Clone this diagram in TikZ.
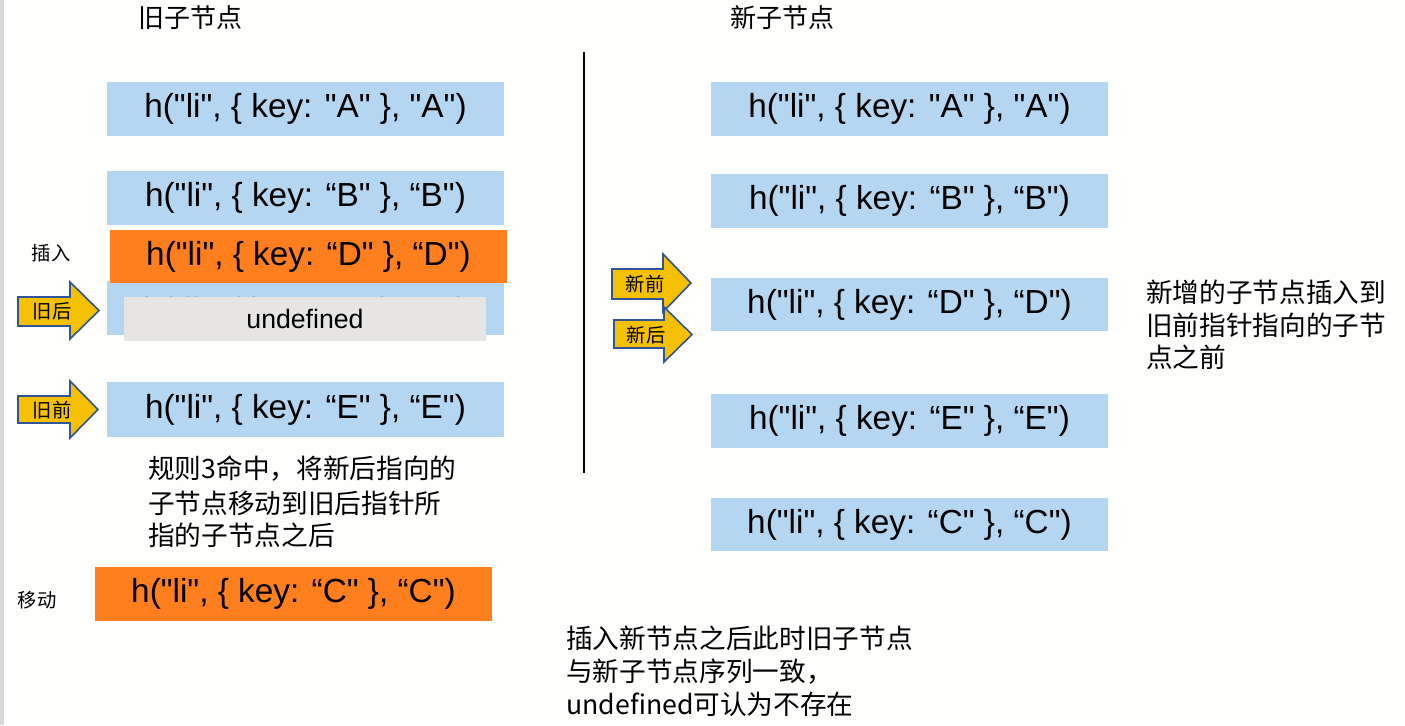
\documentclass[tikz,border=0pt]{standalone}
\usepackage{fontspec}
\setmainfont{Noto Sans CJK SC}
\newfontfamily\latin{Liberation Sans}[Ligatures=ResetAll]
\definecolor{boxblue}{HTML}{B5D6F1}
\definecolor{boxorange}{HTML}{FF7F1F}
\definecolor{boxgray}{HTML}{E6E5E3}
\definecolor{arrowfill}{HTML}{F5C000}
\definecolor{arrowline}{HTML}{2F5597}
\definecolor{bgcol}{HTML}{FEFEFC}
\definecolor{edgegray}{HTML}{D9D9D9}
\tikzset{
  bx/.style={minimum width=297.75pt, minimum height=40.5pt, inner sep=0pt, fill=boxblue,
    font=\latin\fontsize{25}{30}\selectfont},
  obx/.style={bx, fill=boxorange},
  arr/.style={fill=arrowfill, draw=arrowline, line width=1.2pt, line join=miter},
  arrlbl/.style={inner sep=0pt, font=\fontsize{14.5}{17}\selectfont},
  smalllbl/.style={inner sep=0pt, font=\fontsize{14.5}{17}\selectfont},
  title/.style={inner sep=0pt, anchor=west, font=\fontsize{19.5}{24}\selectfont},
  note/.style={inner sep=0pt, anchor=west, font=\fontsize{20}{24}\selectfont},
}
\begin{document}
\begin{tikzpicture}[x=0.75pt,y=-0.75pt]
\fill[bgcol] (0,0) rectangle (1405,725);
\fill[edgegray] (0,0) rectangle (4,725);
\useasboundingbox (0,0) rectangle (1405,725);

% titles
\node[title] (t1) at (138,18) {旧子节点};
\node[title] (t2) at (730,18) {新子节点};

% divider
\coordinate (d1) at (584,52);
\coordinate (d2) at (584,473);
\draw[line width=1.5pt] (d1) -- (d2);

% left column
\node[bx] (lA) at (305.5,109) {h("li", \{ key: "A" \}, "A")};
\node[bx] (lB) at (305.5,198) {h("li", \{ key: “B" \}, “B")};
\node[bx, text opacity=0] (lC) at (305.5,307.5) {};
\begin{scope}
  \clip (107,280) rectangle (504,297);
  \node[inner sep=0pt, font=\latin\fontsize{25}{30}\selectfont] (lCt) at (305.5,313) {h("li", \{ key: “C" \}, “C")};
\end{scope}
\node[inner sep=0pt, minimum width=271.5pt, minimum height=33pt, fill=boxgray,
  font=\latin\fontsize{20}{24}\selectfont] (lU) at (305,319) {undefined};
\node[obx, minimum height=39.75pt] (lD) at (308.5,256.5) {h("li", \{ key: “D" \}, “D")};
\node[bx, minimum height=41.25pt] (lE) at (305.5,409.5) {h("li", \{ key: “E" \}, “E")};
\node[obx] (lM) at (293.5,594) {h("li", \{ key: “C" \}, “C")};

% right column
\node[bx] (rA) at (909.5,109) {h("li", \{ key: "A" \}, "A")};
\node[bx] (rB) at (909.5,201) {h("li", \{ key: “B" \}, “B")};
\node[bx, minimum height=39.75pt] (rD) at (909.5,304.5) {h("li", \{ key: “D" \}, “D")};
\node[bx] (rE) at (909.5,421) {h("li", \{ key: “E" \}, “E")};
\node[bx, minimum height=39.75pt] (rC) at (909.5,524.5) {h("li", \{ key: “C" \}, “C")};

% arrows
\draw[arr] (18,297) -- (70,297) -- (70,282) -- (99,310.5) -- (70,339) -- (70,326) -- (18,326) -- cycle;
\node[arrlbl] (a1) at (52,311) {旧后};
\draw[arr] (18,396) -- (70,396) -- (70,381) -- (98,409.5) -- (70,438) -- (70,423) -- (18,423) -- cycle;
\node[arrlbl] (a2) at (52,410) {旧前};
\draw[arr] (612,269) -- (663,269) -- (663,254) -- (691,283) -- (663,312) -- (663,299) -- (612,299) -- cycle;
\node[arrlbl] (a3) at (645,284) {新前};
\draw[arr] (614,320) -- (664,320) -- (664,307) -- (692,334.5) -- (664,362) -- (664,348) -- (614,348) -- cycle;
\node[arrlbl] (a4) at (646,335) {新后};

% small labels
\node[smalllbl] (ins) at (51,253) {插入};
\node[smalllbl] (mov) at (37,600) {移动};

% notes
\node[note] (n1) at (148,469) {规则3命中，将新后指向的};
\node[note] (n2) at (148,503) {子节点移动到旧后指针所};
\node[note] (n3) at (148,535) {指的子节点之后};

\node[note] (r1) at (1146,292) {新增的子节点插入到};
\node[note] (r2) at (1146,325) {旧前指针指向的子节};
\node[note] (r3) at (1146,357) {点之前};

\node[note] (b1) at (566,638) {插入新节点之后此时旧子节点};
\node[note] (b2) at (566,672) {与新子节点序列一致，};
\node[note] (b3) at (566,704) {undefined可认为不存在};
\end{tikzpicture}
\end{document}
